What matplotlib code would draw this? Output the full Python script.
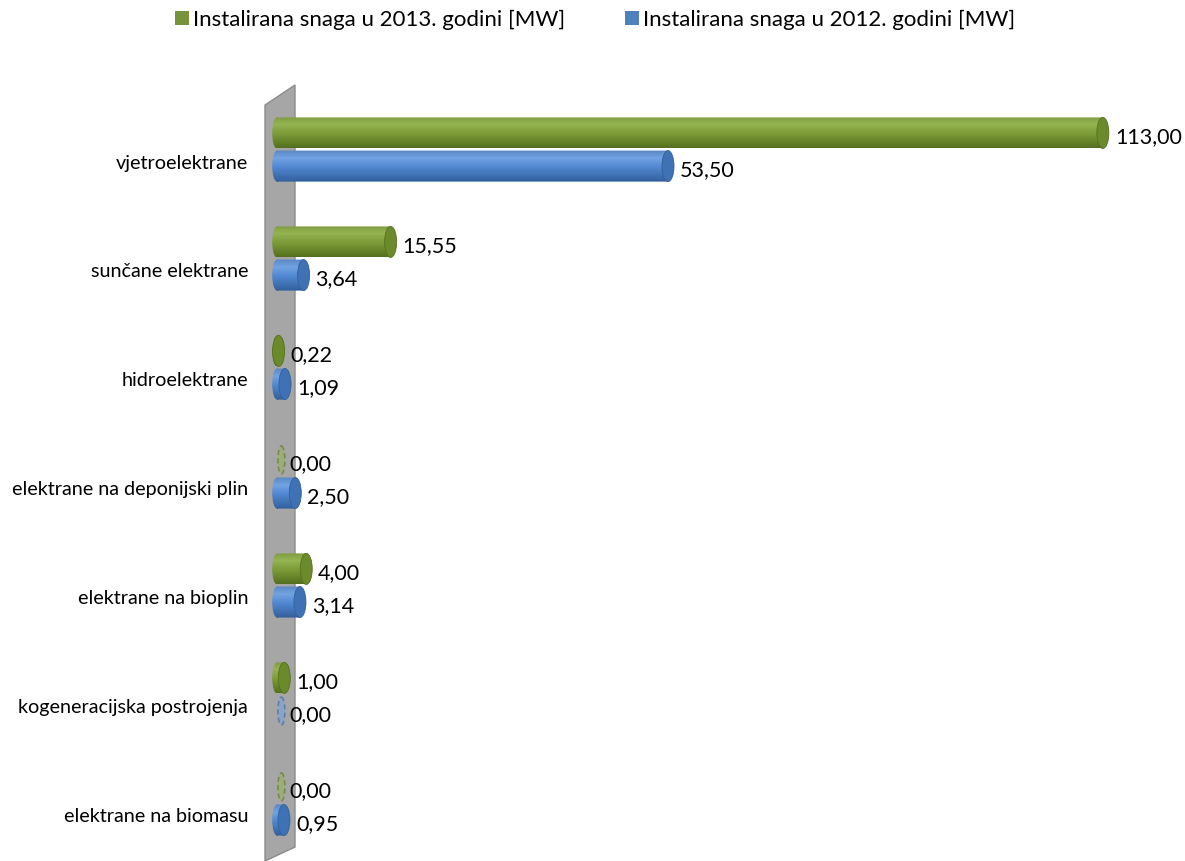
import matplotlib.pyplot as plt
import numpy as np
from matplotlib.patches import Rectangle, Ellipse, Polygon, Patch
from matplotlib.path import Path
from matplotlib.colors import to_rgb

plt.rcParams['font.family'] = ['Lato', 'DejaVu Sans']

categories = ['vjetroelektrane', 'sunčane elektrane', 'hidroelektrane',
              'elektrane na deponijski plin', 'elektrane na bioplin',
              'kogeneracijska postrojenja', 'elektrane na biomasu']
snaga_2013 = [113.00, 15.55, 0.22, 0.00, 4.00, 1.00, 0.00]
snaga_2012 = [53.50, 3.64, 1.09, 2.50, 3.14, 0.00, 0.95]
legend_labels = ['Instalirana snaga u 2013. godini [MW]',
                 'Instalirana snaga u 2012. godini [MW]']

# shading for the cylinders: (top edge, highlight, middle, bottom, cap)
green = ['#7d9a3f', '#95b452', '#7d9c38', '#54701e', '#6a8a2b']
blue = ['#5a87c4', '#72a3e2', '#4f86cf', '#335f9c', '#3f72b4']

px = 877 / 120  # pixels per MW
x_min = -12 / px  # left edge of the grey wall
bar_h = 0.285
off = 0.152
cap_w = 12 / px

fig = plt.figure(figsize=(11.85, 8.61), dpi=100)
ax = fig.add_axes([265 / 1185, 0, 889 / 1185, 776 / 861])

# grey back wall
wall = Polygon([(x_min, -0.408), (18 / px, -0.592), (18 / px, 6.40), (x_min, 6.528)],
               closed=True, facecolor='#a6a6a6', edgecolor='#8c8c8c', lw=1.0,
               clip_on=False, zorder=1)
ax.add_patch(wall)


def cylinder(x, y, shades):
    grad = np.array([to_rgb(c) for c in shades[:4]])
    t = np.linspace(0, 1, 64)
    img = np.stack([np.interp(t, [0, 0.25, 0.55, 1], grad[:, k]) for k in range(3)], axis=-1)
    img = img[:, None, :]
    if x <= 0:
        e = Ellipse((0.6, y), 7 / px, bar_h * 0.9, facecolor=shades[1], edgecolor=shades[3],
                    lw=1.2, ls=(0, (3, 2)), alpha=0.55, zorder=3)
        ax.add_patch(e)
        return
    # body = rectangle + rounded start, filled with a vertical gradient
    start = Ellipse((0, y), cap_w * 0.8, bar_h)
    rect = Rectangle((0, y - bar_h / 2), x, bar_h)
    body = Path.make_compound_path(
        start.get_patch_transform().transform_path(start.get_path()),
        rect.get_patch_transform().transform_path(rect.get_path()))
    im = ax.imshow(img, extent=(-cap_w, x, y - bar_h / 2, y + bar_h / 2), origin='lower',
                   aspect='auto', interpolation='bilinear', zorder=3)
    im.set_clip_path(body, ax.transData)
    cap = Ellipse((x, y), cap_w, bar_h, facecolor=shades[4], edgecolor=shades[3],
                  lw=0.6, zorder=4)
    ax.add_patch(cap)


for i in range(len(categories)):
    for val, shades, dy in [(snaga_2013[i], green, -off), (snaga_2012[i], blue, off)]:
        y = i + dy
        cylinder(val, y, shades)
        ax.text(val + 12 / px, y + 0.04, f'{val:.2f}'.replace('.', ','),
                ha='left', va='center', fontsize=15.5, color='black', zorder=5)

ax.set_xlim(x_min, 120)
ax.set_ylim(6.528, -0.592)
ax.set_yticks(np.arange(len(categories)) + 0.11)
ax.set_yticklabels(categories, fontsize=14.2)
ax.tick_params(axis='y', length=0, pad=12.2)
ax.set_xticks([])
for s in ax.spines.values():
    s.set_visible(False)

handles = [Patch(facecolor='#77933c'), Patch(facecolor='#4f81bd')]
fig.legend(handles, legend_labels, loc='center', bbox_to_anchor=(0.502, 0.977),
           ncol=2, frameon=False, fontsize=16, handlelength=0.63, handleheight=0.63,
           handletextpad=0.18, columnspacing=2.7)

fig.savefig('out.png', dpi=100)
